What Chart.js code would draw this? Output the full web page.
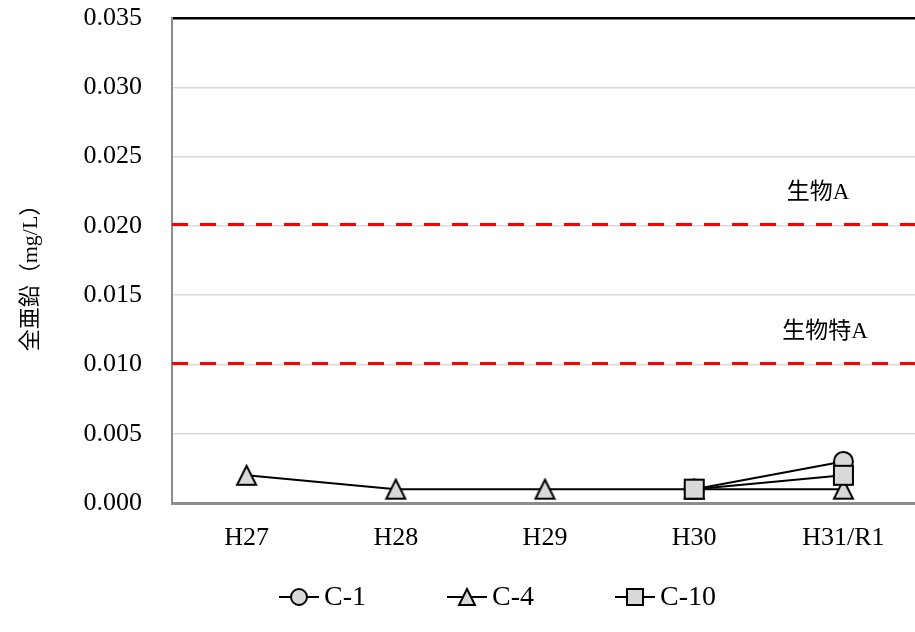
<!DOCTYPE html>
<html>
<head>
<meta charset="utf-8">
<script src="https://cdn.jsdelivr.net/npm/chart.js@4.4.0/dist/chart.umd.min.js"></script>
<style>
  html, body { margin: 0; padding: 0; background: #fff; overflow: hidden; }
  #wrap { position: relative; width: 930px; height: 632px; }
</style>
</head>
<body>
<div id="wrap"><canvas id="c" width="930" height="632"></canvas></div>
<script>
// Survey years and measured total zinc (mg/L) per station
const years = ['H27', 'H28', 'H29', 'H30', 'H31/R1'];
const c1Values = [null, null, null, 0.001, 0.003];
const c4Values = [0.002, 0.001, 0.001, 0.001, 0.001];
const c10Values = [null, null, null, 0.001, 0.002];
const seriesNames = ['C-1', 'C-4', 'C-10'];

// Environmental standard levels drawn as dashed reference lines
const standardNames = ['生物A', '生物特A'];
const standardValues = [0.0201, 0.0101];

// Y axis range and title
const yMin = 0;
const yMax = 0.035;
const yStep = 0.005;
const yTitle = '全亜鉛（mg/L）';

const SERIF = '"Liberation Serif", "Times New Roman", "Noto Sans CJK JP", serif';
const CJK = '"Liberation Serif", "Noto Sans CJK JP", serif';

// Marker drawing (grey fill, black outline)
function drawShape(ctx, shape, cx, cy, s) {
  ctx.fillStyle = '#d9d9d9';
  ctx.strokeStyle = '#000';
  ctx.lineWidth = 2;
  ctx.beginPath();
  if (shape === 'circle') {
    ctx.arc(cx, cy, s / 2, 0, Math.PI * 2);
  } else if (shape === 'triangle') {
    ctx.moveTo(cx, cy - s / 2);
    ctx.lineTo(cx + s / 2, cy + s / 2);
    ctx.lineTo(cx - s / 2, cy + s / 2);
    ctx.closePath();
  } else {
    ctx.rect(cx - s / 2, cy - s / 2, s, s);
  }
  ctx.fill();
  ctx.stroke();
}

function markerCanvas(shape, s) {
  const cv = document.createElement('canvas');
  cv.width = s + 4; cv.height = s + 4;
  drawShape(cv.getContext('2d'), shape, cv.width / 2, cv.height / 2, s);
  return cv;
}

function legendCanvas(shape, s) {
  const cv = document.createElement('canvas');
  cv.width = 40; cv.height = s + 4;
  const ctx = cv.getContext('2d');
  ctx.strokeStyle = '#000';
  ctx.lineWidth = 2;
  ctx.beginPath();
  ctx.moveTo(0, cv.height / 2);
  ctx.lineTo(cv.width, cv.height / 2);
  ctx.stroke();
  drawShape(ctx, shape, cv.width / 2, cv.height / 2, s);
  return cv;
}

const shapes = ['circle', 'triangle', 'square'];
const pointImgs = shapes.map(s => markerCanvas(s, 19));
const legendImgs = shapes.map(s => legendCanvas(s, 16));

// Dashed standard lines with their captions
const standardsPlugin = {
  id: 'standards',
  beforeDatasetsDraw(chart) {
    const { ctx, chartArea, scales } = chart;
    ctx.save();
    standardValues.forEach((v, i) => {
      const y = Math.round(scales.y.getPixelForValue(v)) + 0.5;
      ctx.strokeStyle = '#ff0000';
      ctx.lineWidth = 3;
      ctx.setLineDash([16, 12]);
      ctx.beginPath();
      ctx.moveTo(chartArea.left, y);
      ctx.lineTo(chartArea.right, y);
      ctx.stroke();
      ctx.setLineDash([]);
      ctx.fillStyle = '#000';
      ctx.font = '23px ' + CJK;
      ctx.textAlign = 'center';
      ctx.textBaseline = 'middle';
      ctx.fillText(standardNames[i], chartArea.right - 100 + (i === 1 ? 7 : 0), y - 32);
    });
    ctx.restore();
  },
  // Rotated y-axis title
  afterDraw(chart) {
    const { ctx, chartArea } = chart;
    ctx.save();
    ctx.translate(31, (chartArea.top + chartArea.bottom) / 2 + 12);
    ctx.rotate(-Math.PI / 2);
    ctx.font = '22px ' + CJK;
    ctx.fillStyle = '#000';
    ctx.textAlign = 'center';
    ctx.textBaseline = 'middle';
    ctx.fillText(yTitle, 0, 0);
    ctx.restore();
  }
};

// Bottom legend: line-with-marker icon followed by the series name
const legendPlugin = {
  id: 'lineLegend',
  afterDraw(chart) {
    const { ctx, chartArea } = chart;
    const o = chart.options.plugins.lineLegend;
    ctx.save();
    ctx.font = o.fontSize + 'px ' + SERIF;
    ctx.textBaseline = 'middle';
    ctx.textAlign = 'left';
    ctx.fillStyle = '#000';
    const y = chartArea.bottom + o.offsetY;
    chart.data.datasets.forEach((ds, i) => {
      const x0 = o.startX + i * o.spacing;
      const img = legendImgs[i];
      ctx.drawImage(img, x0, y - img.height / 2);
      ctx.fillText(ds.label, x0 + img.width + o.gap, y + 1);
    });
    ctx.restore();
  }
};

const lineStyle = (i) => ({
  borderColor: '#000',
  borderWidth: 2,
  pointStyle: pointImgs[i],
  pointRadius: 10,
  pointHoverRadius: 10,
  fill: false,
  tension: 0,
  spanGaps: false
});

new Chart(document.getElementById('c'), {
  type: 'line',
  data: {
    labels: years,
    datasets: [
      { label: seriesNames[0], data: c1Values, order: 3, ...lineStyle(0) },
      { label: seriesNames[1], data: c4Values, order: 2, ...lineStyle(1) },
      { label: seriesNames[2], data: c10Values, order: 1, ...lineStyle(2) }
    ]
  },
  plugins: [standardsPlugin, legendPlugin],
  options: {
    responsive: false,
    animation: false,
    devicePixelRatio: 1,
    layout: { padding: { top: 18, right: 6, left: 0, bottom: 0 } },
    plugins: {
      legend: { display: false },
      tooltip: { enabled: false },
      lineLegend: { fontSize: 28, startX: 279, spacing: 168, gap: 5, offsetY: 94 }
    },
    scales: {
      x: {
        type: 'category',
        offset: true,
        grid: { display: false, drawTicks: false },
        border: { display: true, color: '#8c8c8c', width: 3 },
        ticks: { color: '#000', font: { family: SERIF, size: 26 }, padding: 20, maxRotation: 0 },
        afterFit(s) { s.height = 129; }
      },
      y: {
        min: yMin,
        max: yMax,
        grid: {
          drawTicks: false,
          color: (c) => (c.tick && Math.abs(c.tick.value - yMax) < 1e-9 ? '#000' : '#d9d9d9'),
          lineWidth: (c) => (c.tick && Math.abs(c.tick.value - yMax) < 1e-9 ? 2.5 : 1.5)
        },
        border: { display: true, color: '#8c8c8c', width: 2 },
        ticks: {
          stepSize: yStep,
          color: '#000',
          font: { family: SERIF, size: 26 },
          padding: 30,
          callback: (v) => v.toFixed(3)
        },
        afterFit(s) { s.width = 172; s.paddingTop = 0; s.paddingBottom = 0; }
      }
    }
  }
});
</script>
</body>
</html>
